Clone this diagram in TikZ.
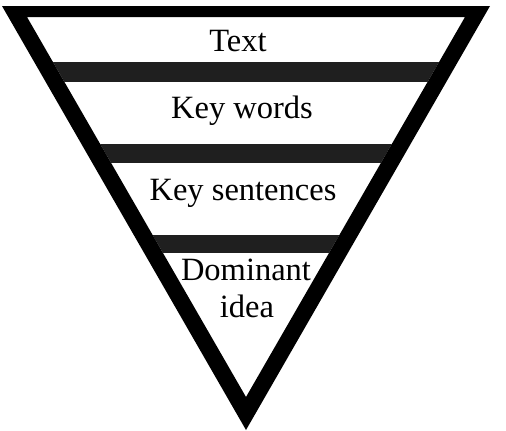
\documentclass[tikz,border=0pt]{standalone}
\usepackage{fontspec}
\setmainfont{Liberation Serif}
\begin{document}
\begin{tikzpicture}[x=1pt,y=-1pt,
  lbl/.style={font=\fontsize{32.5}{36}\selectfont, anchor=base, inner sep=0pt},
  bar/.style={fill=black!88, draw=none}]
\useasboundingbox (0,0) rectangle (506,431);
% bars (clipped to the triangle)
\begin{scope}
  \clip (27,17) -- (465,17) -- (246,397) -- cycle;
  \fill[bar] (0,62) rectangle (506,82);
  \fill[bar] (0,144) rectangle (506,163);
  \fill[bar] (0,235) rectangle (506,253);
\end{scope}
% border
\fill[black, even odd rule]
  (2,6) -- (490,6) -- (246,430) -- cycle
  (27,17) -- (465,17) -- (246,397) -- cycle;
% labels
\node[lbl] (t1) at (238,51) {Text};
\node[lbl] (t2) at (242,118) {Key words};
\node[lbl] (t3) at (243,200) {Key sentences};
\node[lbl] (t4) at (246,280) {Dominant};
\node[lbl] (t5) at (247,317) {idea};
\end{tikzpicture}
\end{document}
